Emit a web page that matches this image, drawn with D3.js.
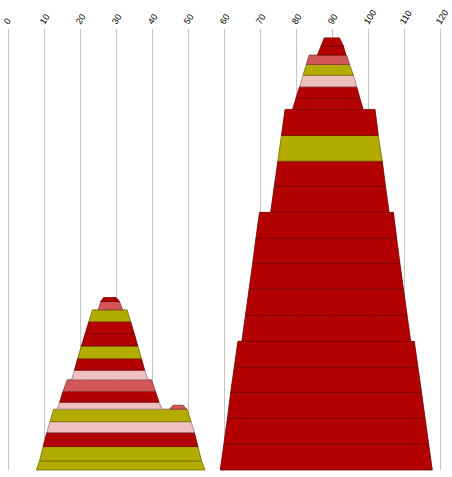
<!DOCTYPE html>
<html>
<head>
<meta charset="utf-8">
<script src="https://cdn.jsdelivr.net/npm/d3@7"></script>
<style>
  html, body { margin: 0; padding: 0; background: #fff; }
  svg { display: block; }
</style>
</head>
<body>
<div id="chart"></div>
<script>
// ---------- DATA ----------
const xTicks = [0, 10, 20, 30, 40, 50, 60, 70, 80, 90, 100, 110, 120];

const palette = { red: "#b30000", olive: "#b3ac00", pink: "#f0c0c0", salmon: "#d35656" };

// Left stack, listed bottom to top
const leftHeights  = [3.5, 5.5, 5.4, 4.2, 4.8, 2.7, 4.1, 4.5, 3.7, 4.5, 4.8, 4.8, 4.6, 4.5, 3.2, 1.5];
const leftLowBase  = [8.0, 8.9, 9.9, 10.9, 11.8, 13.8, 14.5, 15.4, 17.8, 18.6, 19.5, 20.5, 21.6, 22.6, 25.2, 25.9];
const leftHighBase = [54.9, 53.9, 52.9, 51.9, 51.0, 43.0, 42.1, 41.1, 39.0, 38.1, 37.2, 36.2, 35.2, 34.2, 32.0, 31.1];
const leftLowTop   = [8.9, 9.9, 10.9, 11.8, 12.8, 14.5, 15.4, 16.6, 18.6, 19.5, 20.5, 21.6, 22.6, 23.6, 25.9, 26.7];
const leftHighTop  = [53.9, 52.9, 51.9, 51.0, 49.9, 42.1, 41.1, 40.0, 38.1, 37.2, 36.2, 35.2, 34.2, 33.2, 31.1, 30.2];
const leftColors   = ["olive", "olive", "red", "pink", "olive", "pink", "red", "salmon", "pink", "red", "olive", "red", "red", "olive", "salmon", "red"];

// Small extra piece resting on the 5th band of the left stack
const sideRestsOn = 5;
const sideHeight = 1.5, sideLowBase = 45.0, sideHighBase = 49.7, sideLowTop = 46.0, sideHighTop = 48.8;
const sideColor = "salmon";

// Right stack, listed bottom to top
const rightHeights  = [9.9, 10, 10, 9.8, 9.8, 10, 10, 10, 9.6, 10, 10, 9.7, 9.9, 10, 4.2, 4.5, 4.4, 4.2, 3.6, 3.5, 3.1];
const rightLowBase  = [59.1, 60.1, 61.1, 62.0, 63.0, 65.1, 66.1, 67.1, 68.1, 69.0, 73.1, 74.1, 75.1, 76.1, 79.2, 80.1, 81.1, 82.1, 83.0, 86.1, 87.1];
const rightHighBase = [118.0, 117.0, 116.0, 115.0, 114.0, 112.0, 111.0, 110.0, 109.0, 108.1, 106.0, 105.0, 104.1, 103.0, 98.8, 97.9, 97.0, 96.1, 95.0, 94.0, 93.3];
const rightLowTop   = [60.1, 61.1, 62.0, 63.0, 64.0, 66.1, 67.1, 68.1, 69.0, 70.0, 74.1, 75.1, 76.1, 77.1, 80.1, 81.1, 82.1, 83.0, 83.8, 87.1, 88.0];
const rightHighTop  = [117.0, 116.0, 115.0, 114.0, 113.0, 111.0, 110.0, 109.0, 108.1, 107.2, 105.0, 104.1, 103.0, 102.1, 97.9, 97.0, 96.1, 95.0, 94.2, 93.3, 92.2];
const rightColors   = ["red", "red", "red", "red", "red", "red", "red", "red", "red", "red", "red", "red", "olive", "red", "red", "red", "pink", "olive", "salmon", "red", "red"];

// ---------- CHART ----------
const W = 452, H = 477;
const plotTop = 29, plotBottom = 470;

const svg = d3.select("#chart").append("svg")
  .attr("width", W).attr("height", H);

const x = d3.scaleLinear().domain([0, 120]).range([7.5, 439.5]);
const y = d3.scaleLinear().domain([0, 180]).range([plotBottom, plotBottom - 468]);

// axis with grid lines
const axis = d3.axisTop(x).tickValues(xTicks).tickSize(-(plotBottom - plotTop)).tickPadding(0);
const gAxis = svg.append("g")
  .attr("transform", `translate(0.5,${plotTop})`)
  .call(axis);
gAxis.select(".domain").remove();
gAxis.selectAll(".tick line").attr("stroke", "#c4c4c4").attr("stroke-width", 1);
gAxis.selectAll(".tick text")
  .attr("y", 0).attr("dy", 0)
  .attr("text-anchor", "start")
  .attr("transform", "translate(0,-4) rotate(-57)")
  .attr("font-family", "'Liberation Sans', Arial, sans-serif")
  .attr("font-size", 9)
  .attr("fill", "#000");

function buildBands(heights, lb, hb, lt, ht, colors) {
  const bases = d3.cumsum([0, ...heights]);
  return heights.map((h, i) => ({
    y0: bases[i], y1: bases[i] + h,
    lb: lb[i], hb: hb[i], lt: lt[i], ht: ht[i], color: colors[i]
  }));
}

const leftBands = buildBands(leftHeights, leftLowBase, leftHighBase, leftLowTop, leftHighTop, leftColors);
const rightBands = buildBands(rightHeights, rightLowBase, rightHighBase, rightLowTop, rightHighTop, rightColors);
const sideBase = d3.sum(leftHeights.slice(0, sideRestsOn));
const sideBand = { y0: sideBase, y1: sideBase + sideHeight, lb: sideLowBase, hb: sideHighBase, lt: sideLowTop, ht: sideHighTop, color: sideColor };

const allBands = [...leftBands, sideBand, ...rightBands];

const line = d3.line();
svg.append("g").selectAll("path")
  .data(allBands)
  .join("path")
  .attr("d", d => line([
    [x(d.lb), y(d.y0)], [x(d.lt), y(d.y1)], [x(d.ht), y(d.y1)], [x(d.hb), y(d.y0)]
  ]) + "Z")
  .attr("fill", d => palette[d.color])
  .attr("stroke", d => d3.color(palette[d.color]).darker(1.3))
  .attr("stroke-width", 0.8)
  .attr("stroke-linejoin", "round");
</script>
</body>
</html>
